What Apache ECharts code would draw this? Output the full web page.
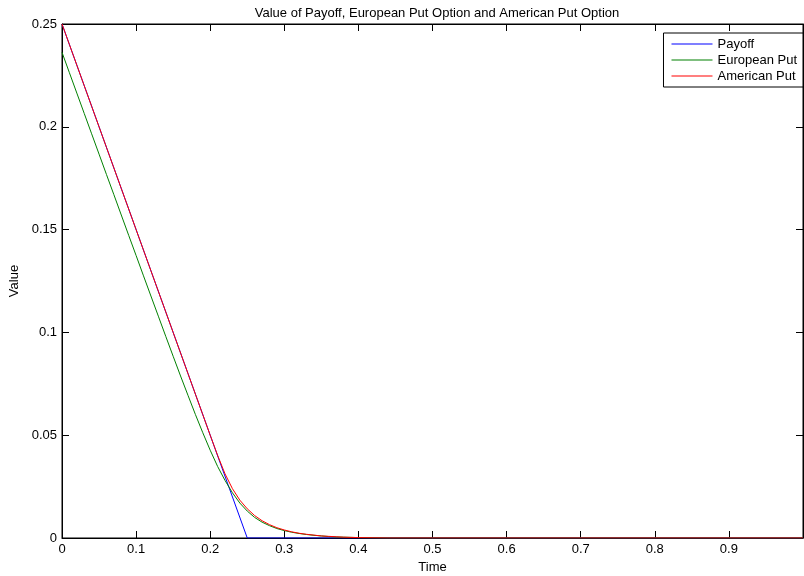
<!DOCTYPE html>
<html>
<head>
<meta charset="utf-8">
<script src="https://cdn.jsdelivr.net/npm/echarts@6/dist/echarts.min.js"></script>
<style>html,body{margin:0;padding:0;background:#fff;}#chart{width:804px;height:576px;}</style>
</head>
<body>
<div id="chart"></div>
<script>
const titleText = 'Value of Payoff, European Put Option and American Put Option';
const seriesNames = ['Payoff', 'European Put', 'American Put'];
const xTicks = [0, 0.1, 0.2, 0.3, 0.4, 0.5, 0.6, 0.7, 0.8, 0.9];
const yTicks = [0, 0.05, 0.1, 0.15, 0.2, 0.25];

const payoffX = [0, 0.25, 1];
const payoffY = [0.25, 0, 0];

const optionX = [0,0.01,0.02,0.03,0.04,0.05,0.06,0.07,0.08,0.09,
  0.10,0.11,0.12,0.13,0.14,0.15,0.16,0.17,0.18,0.19,
  0.20,0.21,0.22,0.23,0.24,0.25,0.26,0.27,0.28,0.29,
  0.30,0.31,0.32,0.33,0.34,0.35,0.36,0.37,0.38,0.39,
  0.40,0.42,0.44,0.5,0.6,0.7,0.8,0.9,1.0];

const europeanY = [0.2362,0.2263,0.2164,0.2065,0.1966,0.1867,0.1768,0.1670,0.1571,0.1472,
  0.1374,0.1275,0.1177,0.1079,0.0981,0.0884,0.0788,0.0694,0.0601,0.0512,
  0.0427,0.0348,0.0280,0.0220,0.0170,0.0131,0.0100,0.0077,0.0060,0.0046,
  0.0036,0.0028,0.0022,0.0017,0.0013,0.0010,0.0007,0.0005,0.0004,0.0003,
  0.0002,0.0001,0,0,0,0,0,0,0];

const americanY = [0.25,0.24,0.23,0.22,0.21,0.20,0.19,0.18,0.17,0.16,
  0.15,0.14,0.13,0.12,0.11,0.10,0.09,0.08,0.07,0.06,
  0.0500,0.0402,0.0312,0.0240,0.0184,0.0142,0.0109,0.0084,0.0065,0.0050,
  0.0039,0.0030,0.0023,0.0018,0.0014,0.0010,0.0008,0.0006,0.0004,0.0003,
  0.0002,0.0001,0,0,0,0,0,0,0];

const colors = ['#0000ff', '#008000', '#ff0000'];
const FONT = '"Liberation Sans", Arial, Helvetica, sans-serif';
const FS = 13;

function zip(xs, ys) { return xs.map((x, i) => [x, ys[i]]); }

const chart = echarts.init(document.getElementById('chart'), null, {renderer: 'canvas'});

function fmtX(v) {
  if (v >= 0.999) return '';
  const hit = xTicks.find(t => Math.abs(t - v) < 1e-9);
  return hit === undefined ? '' : String(hit);
}
function fmtY(v) {
  const hit = yTicks.find(t => Math.abs(t - v) < 1e-9);
  return hit === undefined ? '' : String(hit);
}

const tickStyle = {show: true, inside: true, length: 7, lineStyle: {color: '#000', width: 1}};
const lineStyleAxis = {show: true, onZero: false, lineStyle: {color: '#000', width: 1}};

chart.setOption({
  animation: false,
  backgroundColor: '#fff',
  color: colors,
  title: {
    text: titleText,
    left: 432, top: 2, textAlign: 'center',
    textStyle: {fontFamily: FONT, fontSize: FS, fontWeight: 'normal', color: '#000'}
  },
  legend: {
    data: seriesNames,
    orient: 'vertical',
    right: 1, top: 33,
    padding: [3, 6, 3, 8],
    itemGap: 0,
    itemWidth: 41, itemHeight: 1,
    icon: 'rect',
    borderColor: '#000', borderWidth: 1,
    backgroundColor: '#fff',
    textStyle: {fontFamily: FONT, fontSize: FS, color: '#000', lineHeight: 16}
  },
  grid: {left: 62, right: 1, top: 24, bottom: 38, containLabel: false, outerBoundsMode: 'none',
    show: true, borderColor: '#000', borderWidth: 1, backgroundColor: '#fff'},
  xAxis: [{
    type: 'value', min: 0, max: 1, interval: 0.1, position: 'bottom',
    name: 'Time', nameLocation: 'middle', nameGap: 20,
    nameTextStyle: {fontFamily: FONT, fontSize: FS, color: '#000'},
    axisLine: lineStyleAxis, axisTick: tickStyle,
    axisLabel: {fontFamily: FONT, fontSize: FS, color: '#000', margin: 5, formatter: fmtX},
    splitLine: {show: false}
  }, {
    type: 'value', min: 0, max: 1, interval: 0.1, position: 'top',
    axisLine: lineStyleAxis, axisTick: tickStyle,
    axisLabel: {show: false}, splitLine: {show: false}
  }],
  yAxis: [{
    type: 'value', min: 0, max: 0.25, interval: 0.05, position: 'left',
    name: 'Value', nameLocation: 'middle', nameGap: 35, nameRotate: 90,
    nameTextStyle: {fontFamily: FONT, fontSize: FS, color: '#000'},
    axisLine: lineStyleAxis, axisTick: tickStyle,
    axisLabel: {fontFamily: FONT, fontSize: FS, color: '#000', margin: 5, formatter: fmtY},
    splitLine: {show: false}
  }, {
    type: 'value', min: 0, max: 0.25, interval: 0.05, position: 'right',
    axisLine: lineStyleAxis, axisTick: tickStyle,
    axisLabel: {show: false}, splitLine: {show: false}
  }],
  series: [
    {name: seriesNames[0], type: 'line', data: zip(payoffX, payoffY), showSymbol: false, symbol: 'none', lineStyle: {width: 1, color: colors[0]}, itemStyle: {color: colors[0]}, z: 2},
    {name: seriesNames[1], type: 'line', data: zip(optionX, europeanY), showSymbol: false, symbol: 'none', lineStyle: {width: 1, color: colors[1]}, itemStyle: {color: colors[1]}, z: 3},
    {name: seriesNames[2], type: 'line', data: zip(optionX, americanY), showSymbol: false, symbol: 'none', lineStyle: {width: 1, color: colors[2]}, itemStyle: {color: colors[2]}, z: 4}
  ]
});
</script>
</body>
</html>
